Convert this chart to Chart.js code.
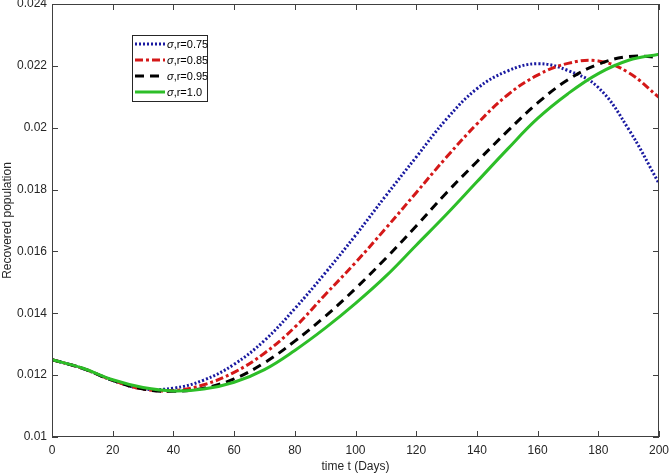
<!DOCTYPE html>
<html>
<head>
<meta charset="utf-8">
<script src="https://cdn.jsdelivr.net/npm/chart.js@4"></script>
<style>
  html, body { margin: 0; padding: 0; background: #fff; }
  #wrap { width: 669px; height: 476px; }
</style>
</head>
<body>
<div id="wrap"><canvas id="chart"></canvas></div>
<script>
// time in days
const days = [0, 10, 20, 30, 40, 50, 60, 70, 80, 90, 100, 110, 120, 130, 140, 150, 160, 170, 180, 190, 200];

// recovered population
const r075 = [0.0125, 0.01222, 0.01183, 0.01156, 0.01158, 0.01184, 0.01235, 0.01312, 0.01415, 0.0153, 0.01652, 0.0178, 0.01905, 0.02028, 0.02126, 0.02183, 0.02207, 0.02185, 0.0213, 0.01995, 0.0182];
const r085 = [0.0125, 0.01222, 0.01183, 0.01155, 0.0115, 0.01169, 0.01209, 0.01271, 0.01355, 0.0146, 0.01564, 0.01675, 0.0179, 0.01905, 0.02012, 0.02105, 0.0217, 0.02208, 0.02216, 0.02178, 0.02098];
const r095 = [0.0125, 0.01222, 0.01183, 0.01155, 0.01148, 0.01158, 0.01188, 0.0124, 0.0131, 0.0139, 0.0148, 0.01578, 0.01682, 0.0179, 0.0189, 0.01988, 0.0208, 0.02155, 0.02205, 0.0223, 0.02228];
const r100 = [0.0125, 0.01223, 0.01185, 0.0116, 0.01149, 0.01155, 0.01177, 0.01218, 0.0128, 0.01352, 0.01432, 0.0152, 0.0162, 0.0172, 0.01825, 0.0193, 0.0203, 0.0211, 0.02175, 0.02218, 0.02238];

const seriesLabels = [',r=0.75', ',r=0.85', ',r=0.95', ',r=1.0'];
const yTicks = [0.01, 0.012, 0.014, 0.016, 0.018, 0.02, 0.022, 0.024];

const fontFamily = "'Liberation Sans', Arial, Helvetica, sans-serif";
const axisColor = '#404040';

// box round the axes with inward ticks on all four sides
const boxPlugin = {
  id: 'box',
  afterDatasetsDraw(chart) {
    const { ctx, chartArea: a, scales: { x, y } } = chart;
    ctx.save();
    ctx.strokeStyle = axisColor;
    ctx.lineWidth = 1;
    ctx.strokeRect(a.left + 0.5, a.top + 0.5, a.right - a.left - 1, a.bottom - a.top - 1);
    ctx.beginPath();
    x.ticks.forEach(t => {
      const px = Math.round(x.getPixelForValue(t.value)) + 0.5;
      ctx.moveTo(px, a.bottom); ctx.lineTo(px, a.bottom - 6);
      ctx.moveTo(px, a.top); ctx.lineTo(px, a.top + 6);
    });
    y.ticks.forEach(t => {
      const py = Math.round(y.getPixelForValue(t.value)) + 0.5;
      ctx.moveTo(a.left, py); ctx.lineTo(a.left + 6, py);
      ctx.moveTo(a.right, py); ctx.lineTo(a.right - 6, py);
    });
    ctx.stroke();
    ctx.restore();
  }
};

// legend box inside the plot, upper left
const legendPlugin = {
  id: 'boxLegend',
  afterDraw(chart) {
    const { ctx, chartArea: a } = chart;
    const bx = a.left + 80, by = a.top + 31, bw = 75, bh = 66;
    ctx.save();
    ctx.fillStyle = '#fff';
    ctx.fillRect(bx, by, bw, bh);
    ctx.strokeStyle = '#262626';
    ctx.lineWidth = 1;
    ctx.strokeRect(bx + 0.5, by + 0.5, bw, bh);
    chart.data.datasets.forEach((ds, i) => {
      const yy = by + 9 + i * 16;
      ctx.strokeStyle = ds.borderColor;
      ctx.lineWidth = ds.borderWidth;
      ctx.setLineDash(ds.borderDash || []);
      ctx.beginPath();
      ctx.moveTo(bx + 3, yy);
      ctx.lineTo(bx + 33, yy);
      ctx.stroke();
      ctx.setLineDash([]);
      ctx.fillStyle = '#000';
      ctx.textBaseline = 'middle';
      ctx.font = 'italic 11px ' + fontFamily;
      ctx.fillText('\u03c3', bx + 35, yy + 1);
      const w = ctx.measureText('\u03c3').width;
      ctx.font = '11px ' + fontFamily;
      ctx.fillText(seriesLabels[i], bx + 35 + w, yy + 1);
    });
    ctx.restore();
  }
};

const ctx = document.getElementById('chart').getContext('2d');

const chart = new Chart(ctx, {
  type: 'line',
  data: {
    labels: days,
    datasets: [{
      label: seriesLabels[0],
      data: r075,
      borderColor: 'rgb(25, 25, 160)',
      borderWidth: 3,
      borderDash: [2, 2],
      order: 3
    },
    {
      label: seriesLabels[1],
      data: r085,
      borderColor: 'rgb(212, 24, 24)',
      borderWidth: 3,
      borderDash: [8, 3, 3, 3],
      order: 2
    },
    {
      label: seriesLabels[2],
      data: r095,
      borderColor: 'rgb(0, 0, 0)',
      borderWidth: 3,
      borderDash: [9, 6],
      order: 1
    },
    {
      label: seriesLabels[3],
      data: r100,
      borderColor: 'rgb(45, 190, 40)',
      borderWidth: 3,
      order: 0
    }]
  },
  options: {
    animation: false,
    responsive: true,
    maintainAspectRatio: false,
    layout: { padding: { top: 4, right: 10, left: 0, bottom: 0 } },
    elements: {
      point: { radius: 0 },
      line: { tension: 0.4, fill: false, borderCapStyle: 'butt' }
    },
    plugins: {
      legend: { display: false },
      tooltip: { enabled: false }
    },
    scales: {
      x: {
        type: 'linear',
        min: 0,
        max: 200,
        border: { display: false },
        grid: { display: false, drawTicks: false },
        ticks: {
          stepSize: 20,
          padding: 6,
          maxRotation: 0,
          color: '#262626',
          font: { family: fontFamily, size: 12 }
        },
        title: {
          display: true,
          text: 'time t (Days)',
          color: '#262626',
          padding: { top: 0, bottom: 2 },
          font: { family: fontFamily, size: 12 }
        },
        afterFit(scale) {
          scale.height = 39;
          scale.paddingLeft = 0;
          scale.paddingRight = 0;
        }
      },
      y: {
        min: 0.01,
        max: 0.024,
        border: { display: false },
        grid: { display: false, drawTicks: false },
        afterBuildTicks(scale) {
          scale.ticks = yTicks.map(v => ({ value: v }));
        },
        ticks: {
          padding: 5,
          color: '#262626',
          font: { family: fontFamily, size: 12 },
          callback: v => String(Math.round(v * 1000) / 1000)
        },
        title: {
          display: true,
          text: 'Recovered population',
          color: '#262626',
          padding: { top: 0, bottom: 0 },
          font: { family: fontFamily, size: 12 }
        },
        afterFit(scale) {
          scale.width = 52;
          scale.paddingTop = 0;
          scale.paddingBottom = 0;
        }
      }
    }
  },
  plugins: [boxPlugin, legendPlugin]
});
</script>
</body>
</html>
